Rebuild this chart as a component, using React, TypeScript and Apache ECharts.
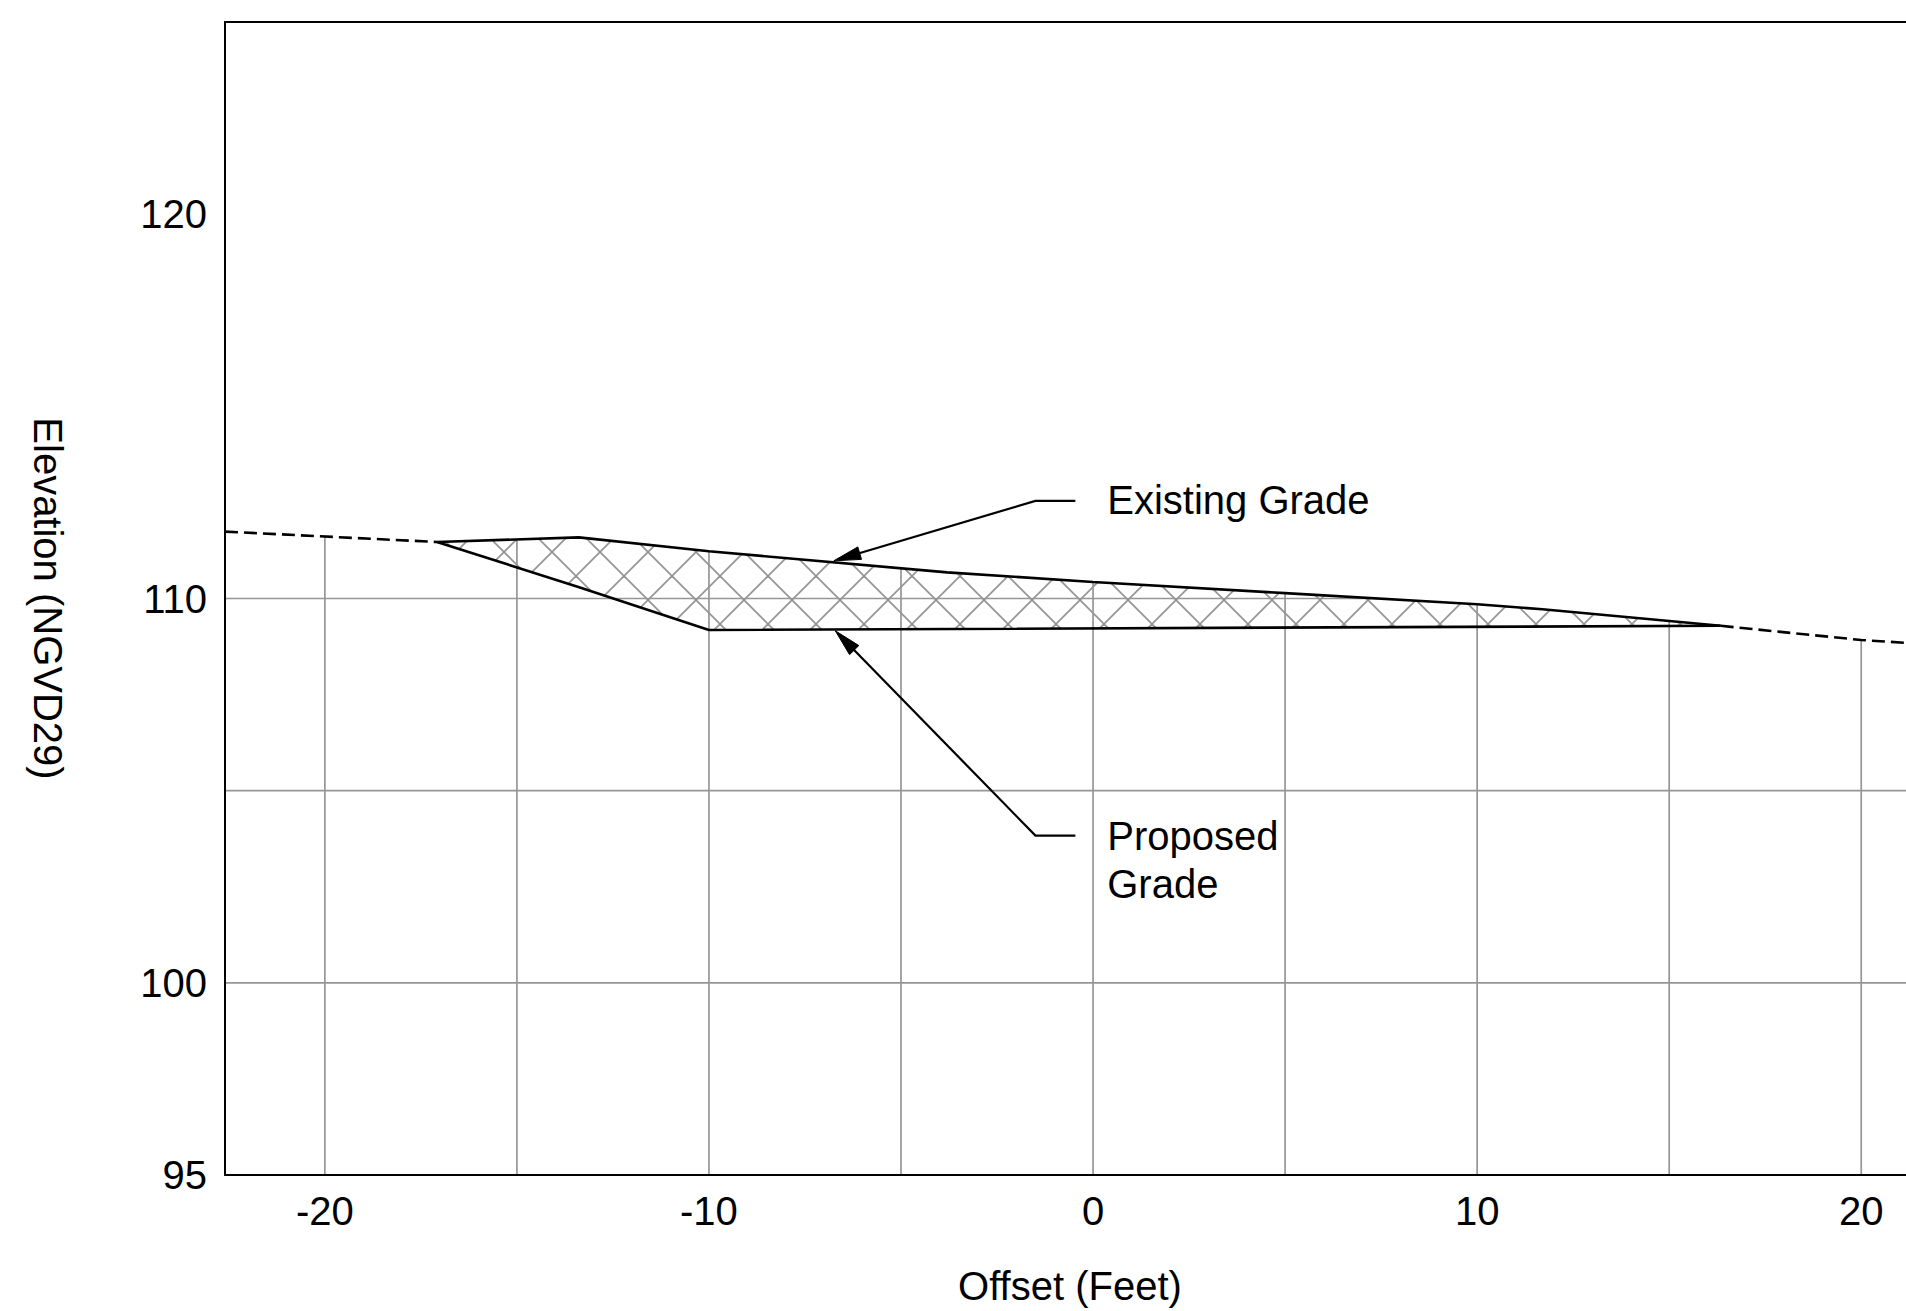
import React, { useEffect, useRef } from "react";
import * as echarts from "echarts";

// ---- axis ranges & ticks ----
const xMin = -22.6;
const xMax = 21.4;
const yMin = 95;
const yMax = 125;
const gridXValues = [-20, -15, -10, -5, 0, 5, 10, 15, 20];
const gridYValues = [100, 105, 110, 115, 120];
const xLabelValues = [-20, -10, 0, 10, 20];
const yLabelValues = [95, 100, 110, 120];

// ---- profile data (offset ft, elevation ft) ----
const existingLeftDashed = [
  [-22.6, 111.74],
  [-17.08, 111.47],
];
const existingCut = [
  [-17.08, 111.47],
  [-13.39, 111.59],
  [-10, 111.23],
  [-3.8, 110.68],
  [0, 110.43],
  [5, 110.14],
  [10, 109.85],
  [11.7, 109.72],
  [16.34, 109.29],
];
const existingRightDashed = [
  [16.34, 109.29],
  [20, 108.92],
  [21.4, 108.83],
];
const proposedGrade = [
  [-17.08, 111.47],
  [-13.4, 110.3],
  [-10, 109.18],
  [16.34, 109.29],
];

// ---- annotations (data coordinates) ----
const existingLeader = [
  [-0.46, 112.54],
  [-1.5, 112.54],
  [-6.75, 110.98],
];
const proposedLeader = [
  [-0.46, 103.83],
  [-1.5, 103.83],
  [-6.71, 109.16],
];
const existingLabelText = "Existing Grade";
const existingLabelAt = [0.37, 112.56];
const proposedLabelText = "Proposed\nGrade";
const proposedLabelAt = [0.37, 103.83];

const FONT = "'Liberation Sans', Arial, Helvetica, sans-serif";
const FS = 40;

function makeHatch() {
  const size = 48;
  const c = document.createElement("canvas");
  c.width = size;
  c.height = size;
  const ctx = c.getContext("2d")!;
  ctx.strokeStyle = "#969696";
  ctx.lineWidth = 1.8;
  for (const k of [-1, 0, 1]) {
    ctx.beginPath();
    ctx.moveTo(-4, -4 + k * size);
    ctx.lineTo(size + 4, size + 4 + k * size);
    ctx.stroke();
    ctx.beginPath();
    ctx.moveTo(-4, size + 4 + k * size);
    ctx.lineTo(size + 4, -4 + k * size);
    ctx.stroke();
  }
  return { image: c.toDataURL(), repeat: "repeat", imageWidth: size, imageHeight: size };
}

export default function App() {
  const ref = useRef<HTMLDivElement>(null);

  useEffect(() => {
    if (!ref.current) return;
    const chart = echarts.init(ref.current, null, { renderer: "svg" });
    const hatch = makeHatch();

    const existingAll = [
      ...existingLeftDashed,
      ...existingCut.slice(1),
      ...existingRightDashed.slice(1),
    ];
    const cutPolygon = [
      ...existingCut,
      ...proposedGrade.slice(1, -1).reverse(),
    ];

    const lineStyleSolid = { color: "#000", width: 2.6, type: "solid" as const };
    const lineStyleDashed = { color: "#000", width: 2.6, type: [13, 6] as any };

    const arrowElems = (api: any, pts: number[][]) => {
      const px = pts.map((p) => api.coord(p));
      const tip = px[px.length - 1];
      const prev = px[px.length - 2];
      const dx = tip[0] - prev[0];
      const dy = tip[1] - prev[1];
      const len = Math.sqrt(dx * dx + dy * dy);
      const ux = dx / len;
      const uy = dy / len;
      const L = 27;
      const W = 6.5;
      const bx = tip[0] - ux * L;
      const by = tip[1] - uy * L;
      const pxs = px.slice(0, -1).concat([[bx + ux * 4, by + uy * 4]]);
      return [
        {
          type: "polyline",
          shape: { points: pxs },
          style: { stroke: "#000", lineWidth: 2.2, fill: null },
        },
        {
          type: "polygon",
          shape: {
            points: [
              tip,
              [bx - uy * W, by + ux * W],
              [bx + uy * W, by - ux * W],
            ],
          },
          style: { fill: "#000", stroke: "#000", lineWidth: 1 },
        },
      ];
    };

    const option: any = {
      animation: false,
      backgroundColor: "#fff",
      textStyle: { fontFamily: FONT },
      grid: {
        left: 225,
        top: 22,
        width: 1690,
        height: 1153,
        containLabel: false,
        outerBoundsMode: "none",
      },
      xAxis: [
        {
          type: "value",
          min: xMin,
          max: xMax,
          position: "bottom",
          z: 10,
          axisLine: { show: true, onZero: false, lineStyle: { color: "#000", width: 2 } },
          axisTick: { show: false },
          splitLine: { show: false },
          axisLabel: {
            showMinLabel: false,
            showMaxLabel: false,
            color: "#000",
            fontSize: FS,
            fontFamily: FONT,
            margin: 16,
            formatter: (v: number) => (xLabelValues.includes(v) ? String(v) : ""),
          },
          name: "Offset (Feet)",
          nameLocation: "middle",
          nameGap: 91,
          nameTextStyle: { color: "#000", fontSize: FS, fontFamily: FONT },
        },
        {
          type: "value",
          min: xMin,
          max: xMax,
          position: "top",
          z: 10,
          axisLine: { show: true, onZero: false, lineStyle: { color: "#000", width: 2 } },
          axisTick: { show: false },
          splitLine: { show: false },
          axisLabel: { show: false },
        },
      ],
      yAxis: [
        {
          type: "value",
          min: yMin,
          max: yMax,
          interval: 5,
          z: 10,
          axisLine: { show: true, onZero: false, lineStyle: { color: "#000", width: 2 } },
          axisTick: { show: false },
          splitLine: { show: false },
          axisLabel: {
            color: "#000",
            fontSize: FS,
            fontFamily: FONT,
            margin: 18,
            formatter: (v: number) => (yLabelValues.includes(v) ? String(v) : ""),
          },
          name: "Elevation (NGVD29)",
          nameLocation: "middle",
          nameRotate: -90,
          nameGap: 157,
          nameTextStyle: { color: "#000", fontSize: FS, fontFamily: FONT },
        },
      ],
      series: [
        {
          name: "grid",
          type: "custom",
          xAxisIndex: 0,
          z: 1,
          silent: true,
          data: [[0, 100]],
          renderItem: (params: any, api: any) => {
            const children: any[] = [];
            gridXValues.forEach((v) => {
              const a = api.coord([v, yMin]);
              const b = api.coord([v, yMax]);
              children.push({
                type: "line",
                shape: { x1: a[0], y1: a[1], x2: b[0], y2: b[1] },
                style: { stroke: "#969696", lineWidth: 1.7 },
              });
            });
            gridYValues.forEach((v) => {
              const a = api.coord([xMin, v]);
              const b = api.coord([xMax, v]);
              children.push({
                type: "line",
                shape: { x1: a[0], y1: a[1], x2: b[0], y2: b[1] },
                style: { stroke: "#969696", lineWidth: 1.7 },
              });
            });
            return { type: "group", children };
          },
        },
        {
          name: "mask",
          type: "line",
          xAxisIndex: 0,
          z: 2,
          silent: true,
          symbol: "none",
          data: existingAll,
          lineStyle: { width: 0, opacity: 0 },
          areaStyle: { color: "#ffffff", opacity: 1, origin: "end" },
        },
        {
          name: "cut",
          type: "custom",
          xAxisIndex: 0,
          z: 3,
          silent: true,
          data: [[0, 110]],
          renderItem: (params: any, api: any) => ({
            type: "polygon",
            shape: { points: cutPolygon.map((p) => api.coord(p)) },
            style: { fill: hatch, stroke: null },
          }),
        },
        {
          name: "Existing (left)",
          type: "line",
          xAxisIndex: 0,
          z: 5,
          symbol: "none",
          data: existingLeftDashed,
          lineStyle: lineStyleDashed,
        },
        {
          name: "Existing Grade",
          type: "line",
          xAxisIndex: 0,
          z: 5,
          symbol: "none",
          data: existingCut,
          lineStyle: lineStyleSolid,
        },
        {
          name: "Existing (right)",
          type: "line",
          xAxisIndex: 0,
          z: 5,
          symbol: "none",
          data: existingRightDashed,
          lineStyle: lineStyleDashed,
        },
        {
          name: "Proposed Grade",
          type: "line",
          xAxisIndex: 0,
          z: 5,
          symbol: "none",
          data: proposedGrade,
          lineStyle: lineStyleSolid,
        },
        {
          name: "annotations",
          type: "custom",
          xAxisIndex: 0,
          z: 6,
          silent: true,
          data: [[0, 110]],
          renderItem: (params: any, api: any) => {
            const e = api.coord(existingLabelAt);
            const p = api.coord(proposedLabelAt);
            return {
              type: "group",
              children: [
                ...arrowElems(api, existingLeader),
                ...arrowElems(api, proposedLeader),
                {
                  type: "text",
                  x: e[0],
                  y: e[1],
                  style: {
                    text: existingLabelText,
                    fill: "#000",
                    fontSize: FS,
                    fontFamily: FONT,
                    align: "left",
                    verticalAlign: "middle",
                  },
                },
                {
                  type: "text",
                  x: p[0],
                  y: p[1] - 24,
                  style: {
                    text: proposedLabelText,
                    fill: "#000",
                    fontSize: FS,
                    fontFamily: FONT,
                    lineHeight: 48,
                    align: "left",
                    verticalAlign: "top",
                  },
                },
              ],
            };
          },
        },
      ],
    };

    chart.setOption(option);
    return () => chart.dispose();
  }, []);

  return (
    <div
      ref={ref}
      style={{ position: "absolute", left: 0, top: 0, width: 1906, height: 1311 }}
    />
  );
}
